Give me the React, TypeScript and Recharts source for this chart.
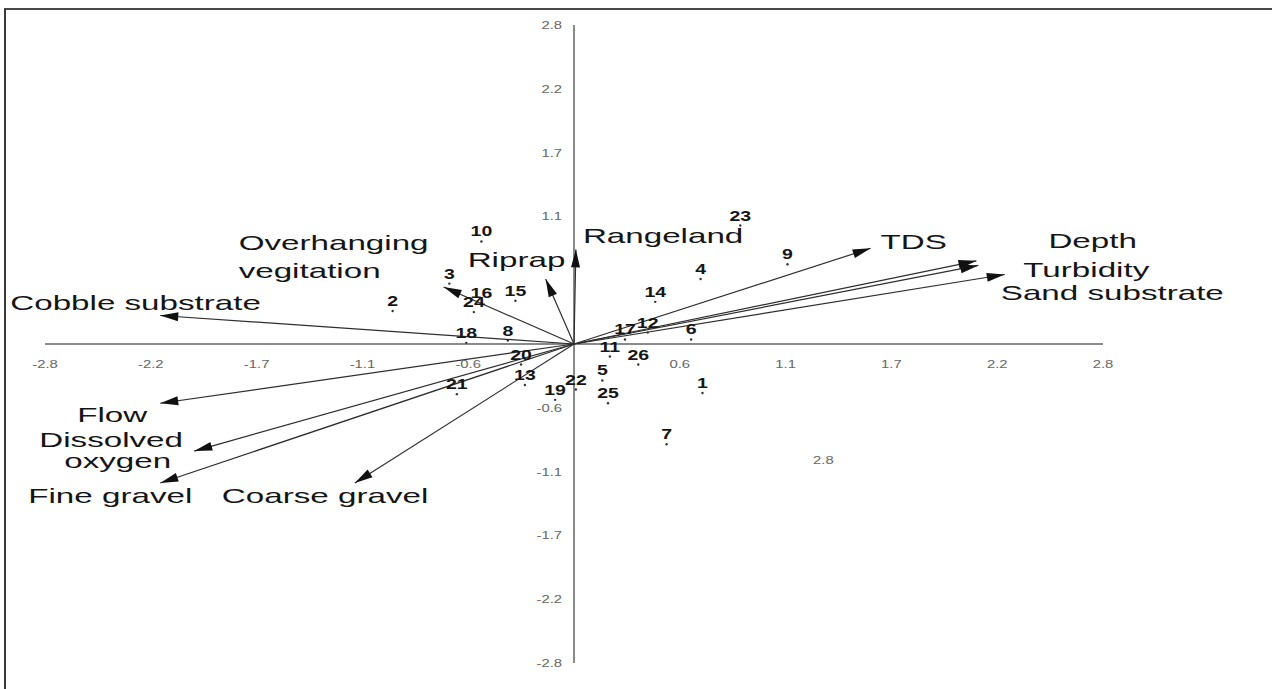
import React from 'react'
import { ScatterChart, Scatter, XAxis, YAxis, ReferenceLine } from 'recharts'

// ordination biplot: environmental vectors + site scores

const vectorNames = [
  'Cobble substrate', 'Overhanging|vegitation', 'Riprap', 'Rangeland', 'TDS', 'Depth',
  'Turbidity', 'Sand substrate', 'Flow', 'Dissolved|oxygen', 'Fine gravel', 'Coarse gravel',
]
const vectorX = [-2.19, -0.69, -0.15, 0.01, 1.57, 2.13, 2.14, 2.28, -2.19, -2.01, -2.19, -1.16]
const vectorY = [0.25, 0.5, 0.57, 0.83, 0.84, 0.73, 0.69, 0.61, -0.52, -0.94, -1.22, -1.22]

const siteIds = [1, 2, 3, 4, 5, 6, 7, 8, 9, 10, 11, 12, 13, 14, 15, 16, 17, 18, 19, 20, 21, 22, 23, 24, 25, 26]
const siteX = [0.68, -0.96, -0.66, 0.67, 0.15, 0.62, 0.49, -0.35, 1.13, -0.49, 0.19, 0.39, -0.26, 0.43, -0.31, -0.49, 0.27, -0.57, -0.1, -0.28, -0.62, 0.01, 0.88, -0.53, 0.18, 0.34]
const siteY = [-0.43, 0.29, 0.53, 0.57, -0.32, 0.04, -0.88, 0.03, 0.7, 0.9, -0.11, 0.1, -0.36, 0.37, 0.38, 0.36, 0.04, 0.01, -0.49, -0.18, -0.44, -0.4, 1.04, 0.28, -0.52, -0.18]

const xTicks = [-2.8, -2.24, -1.68, -1.12, -0.56, 0.56, 1.12, 1.68, 2.24, 2.8]
const xTickLabels = ['-2.8', '-2.2', '-1.7', '-1.1', '-0.6', '0.6', '1.1', '1.7', '2.2', '2.8']
const yTicks = [2.8, 2.24, 1.68, 1.12, -0.56, -1.12, -1.68, -2.24, -2.8]
const yTickLabels = ['2.8', '2.2', '1.7', '1.1', '-0.6', '-1.1', '-1.7', '-2.2', '-2.8']
// loose label left in the lower right quadrant
const strayLabel = { x: 1.32, y: -1.02, text: '2.8' }

const W = 1272
const H = 689
const margin = { top: 25, right: 169, bottom: 26, left: 45 }
const LIM = 2.8
const KX = (W - margin.left - margin.right) / (2 * LIM)
const KY = (H - margin.top - margin.bottom) / (2 * LIM)

const FONT = '"Liberation Sans", Arial, sans-serif'

// text start / baseline offsets from each arrow tip, one pair per line of the name
const labelOffsets: number[][][] = [
  [[-150, -6]],
  [[-205, -37], [-205, -9]],
  [[-78, -12]],
  [[7, -6]],
  [[10, 1]],
  [[72, -13]],
  [[45, 12]],
  [[-4, 25]],
  [[-83, 19]],
  [[-155, -4], [-130, 17]],
  [[-132, 20]],
  [[-133, 20]],
]

const vectors = vectorNames.map((name, i) => ({ name, x: vectorX[i], y: vectorY[i], i }))
const sites = siteIds.map((id, i) => ({ id, x: siteX[i], y: siteY[i] }))
const xTickData = xTicks.map((t, i) => ({ x: t, y: 0, label: xTickLabels[i], axis: 'x' }))
const yTickData = yTicks.map((t, i) => ({ x: 0, y: t, label: yTickLabels[i], axis: 'y' }))
const strayData = [{ x: strayLabel.x, y: strayLabel.y, label: strayLabel.text, axis: 'free' }]

const arrowShape = (v: { name: string; x: number; y: number; i: number }) => (p: any) => {
  if (!p.payload || !p.payload.tip) return <g />
  const dx = v.x * KX
  const dy = -v.y * KY
  const len = Math.hypot(dx, dy)
  const ux = dx / len
  const uy = dy / len
  const L = 18
  const hw = 4.5
  const bx = p.cx - ux * L
  const by = p.cy - uy * L
  const pts = `${p.cx},${p.cy} ${bx - uy * hw},${by + ux * hw} ${bx + uy * hw},${by - ux * hw}`
  const lines = v.name.split('|')
  return (
    <g>
      <polygon points={pts} fill="#111" />
      {lines.map((t, k) => {
        const [ox, oy] = labelOffsets[v.i][k]
        return (
          <text
            key={k}
            transform={`translate(${p.cx + ox},${p.cy + oy}) scale(1.58,1)`}
            fontFamily={FONT}
            fontSize={21}
            fill="#151515"
          >
            {t}
          </text>
        )
      })}
    </g>
  )
}

const SiteMark = (p: any) => (
  <g>
    <circle cx={p.cx} cy={p.cy} r={1.2} fill="#333" />
    <text
      transform={`translate(${p.cx},${p.cy - 5}) scale(1.3,1)`}
      textAnchor="middle"
      fontFamily={FONT}
      fontSize={15}
      fontWeight={700}
      fill="#161616"
    >
      {p.payload.id}
    </text>
  </g>
)

const TickText = (p: any) => {
  const a = p.payload.axis
  const tx = a === 'y' ? p.cx - 12 : p.cx
  const ty = a === 'x' ? p.cy + 24 : p.cy + 4
  return (
    <text
      transform={`translate(${tx},${ty}) scale(1.35,1)`}
      textAnchor={a === 'y' ? 'end' : 'middle'}
      fontFamily={FONT}
      fontSize={11}
      fill="#666"
    >
      {p.payload.label}
    </text>
  )
}

export default function App() {
  return (
    <div style={{ position: 'fixed', left: 0, top: 0, width: W, height: H, background: '#fff' }}>
      <div
        style={{
          position: 'absolute',
          left: 4,
          top: 8,
          width: W - 4,
          height: H - 8,
          borderLeft: '2px solid #3a3a3a',
          borderTop: '2px solid #4a4a4a',
          boxSizing: 'border-box',
        }}
      />
      <div style={{ position: 'absolute', left: 0, top: 0 }}>
        <ScatterChart width={W} height={H} margin={margin}>
          <XAxis type="number" dataKey="x" domain={[-LIM, LIM]} hide />
          <YAxis type="number" dataKey="y" domain={[-LIM, LIM]} hide />
          <ReferenceLine x={0} stroke="#8a8a8a" strokeWidth={2} />
          <ReferenceLine y={0} stroke="#8a8a8a" strokeWidth={2} />
          {vectors.map((v) => (
            <Scatter
              key={v.name}
              data={[{ x: 0, y: 0, tip: false }, { x: v.x, y: v.y, tip: true }]}
              line={{ stroke: '#2e2e2e', strokeWidth: 1.2 }}
              shape={arrowShape(v)}
              isAnimationActive={false}
            />
          ))}
          <Scatter data={sites} shape={SiteMark} isAnimationActive={false} />
          <Scatter data={[...xTickData, ...yTickData, ...strayData]} shape={TickText} isAnimationActive={false} />
        </ScatterChart>
      </div>
    </div>
  )
}
